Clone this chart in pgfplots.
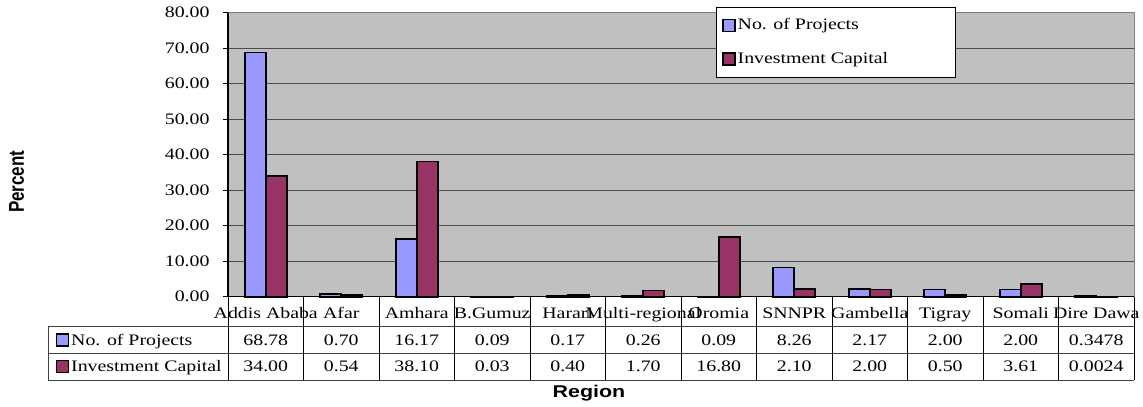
\documentclass[border=0pt]{standalone}
\usepackage{pgfplots}
\pgfplotsset{compat=1.18}
\usepackage{pgfplotstable}
\usepackage{fontspec}
\setmainfont{Liberation Serif}[FakeStretch=1.24]
\newfontfamily\labsans{Liberation Sans}[FakeStretch=1.26]
\newfontfamily\labsansn{Liberation Sans}
\definecolor{projc}{HTML}{9999FF}
\definecolor{invc}{HTML}{993366}
\definecolor{plotbg}{HTML}{C0C0C0}

\pgfplotstableread[col sep=comma,row sep=\\]{
idx,region,proj,inv\\
0,Addis Ababa,68.78,34.00\\
1,Afar,0.70,0.54\\
2,Amhara,16.17,38.10\\
3,B.Gumuz,0.09,0.03\\
4,Harari,0.17,0.40\\
5,Multi-regional,0.26,1.70\\
6,Oromia,0.09,16.80\\
7,SNNPR,8.26,2.10\\
8,Gambella,2.17,2.00\\
9,Tigray,2.00,0.50\\
10,Somali,2.00,3.61\\
11,Dire Dawa,0.3478,0.0024\\
}\datatable

\pgfplotsset{
  projleg/.style={legend image code/.code={\draw[fill=projc,draw=black,line width=1.3bp] (0bp,-6bp) rectangle (12bp,6bp);}},
  invleg/.style={legend image code/.code={\draw[fill=invc,draw=black,line width=1.3bp] (0bp,-6bp) rectangle (12bp,6bp);}},
}

\begin{document}
\fontsize{16bp}{19bp}\selectfont
\begin{tikzpicture}[x=1bp,y=1bp]
\begin{axis}[
  at={(228bp,109.3bp)}, anchor=south west,
  scale only axis, width=906bp, height=284bp,
  xmin=-0.5, xmax=11.5, ymin=0, ymax=80,
  ybar=0pt, bar width=21bp,
  xtick=\empty,
  ytick={0,10,...,80},
  ytick pos=left,
  tick align=outside,
  major tick length=5bp,
  tick style={black, line width=0.8bp},
  /pgf/number format/assume math mode=true,
  yticklabel style={/pgf/number format/fixed, /pgf/number format/fixed zerofill, /pgf/number format/precision=2, font=\fontsize{16bp}{19bp}\selectfont, xshift=-8bp},
  ymajorgrids, grid style={black!70, line width=0.8bp},
  axis background/.style={fill=plotbg},
  axis line style={black!50, line width=1bp},
  clip=false,
  legend style={at={(0.5386,1.0211)}, anchor=north west, draw=black, fill=white, line width=0.8bp,
    inner xsep=6bp, inner ysep=9.5bp, row sep=16bp,
    font=\fontsize{16bp}{19bp}\selectfont},
  legend cell align=left,
]
\addplot[fill=projc, draw=black, line width=1.6bp, projleg] table[x=idx,y=proj]{\datatable};
\addplot[fill=invc, draw=black, line width=1.6bp, invleg] table[x=idx,y=inv]{\datatable};
\legend{\makebox[210bp][l]{No. of Projects},\makebox[210bp][l]{Investment Capital}}
\draw[black, line width=1.2bp] (rel axis cs:0,0) -- (rel axis cs:0,1);
\draw[black, line width=1.2bp] (rel axis cs:0,0) -- (rel axis cs:1,0);
\end{axis}
% data table below the axis
\draw[black!75, line width=0.9bp] (48,79.3) -- (1134,79.3);
\draw[black!75, line width=0.9bp] (48,53) -- (1134,53);
\draw[black!75, line width=0.9bp] (48,26) -- (1134,26);
\draw[black!75, line width=0.9bp] (48,79.3) -- (48,26);
\foreach \k in {0,...,12}{
  \pgfmathsetmacro\xl{228+75.5*\k}
  \draw[black, line width=0.9bp] (\xl,109.3) -- (\xl,26);
}
\foreach \i in {0,...,11}{
  \pgfmathsetmacro\xc{228+75.5*(\i+0.5)}
  \pgfplotstablegetelem{\i}{region}\of\datatable
  \node[anchor=base, inner sep=0pt] at (\xc,88) {\pgfplotsretval};
  \pgfplotstablegetelem{\i}{proj}\of\datatable
  \node[anchor=base, inner sep=0pt] at (\xc,61) {\pgfplotsretval};
  \pgfplotstablegetelem{\i}{inv}\of\datatable
  \node[anchor=base, inner sep=0pt] at (\xc,34.5) {\pgfplotsretval};
}
\draw[fill=projc, draw=black, line width=1.3bp] (56.5,60) rectangle (68.5,72);
\draw[fill=invc, draw=black, line width=1.3bp] (56.5,33.5) rectangle (68.5,45.5);
\node[anchor=base west, inner sep=0pt] at (71,61) {No. of Projects};
\node[anchor=base west, inner sep=0pt] at (71,34.5) {Investment Capital};
\node[anchor=base, inner sep=0pt] at (589,9) {\labsans\bfseries\fontsize{17bp}{20bp}\selectfont Region};
\node[anchor=center, inner sep=0pt] at (16.7,224.3) {\rotatebox{90}{\scalebox{1}[1.26]{\labsansn\bfseries\fontsize{17bp}{20bp}\selectfont Percent}}};
\pgfresetboundingbox
\path[use as bounding box] (0,0) rectangle (1143,406);
\end{tikzpicture}
\end{document}
